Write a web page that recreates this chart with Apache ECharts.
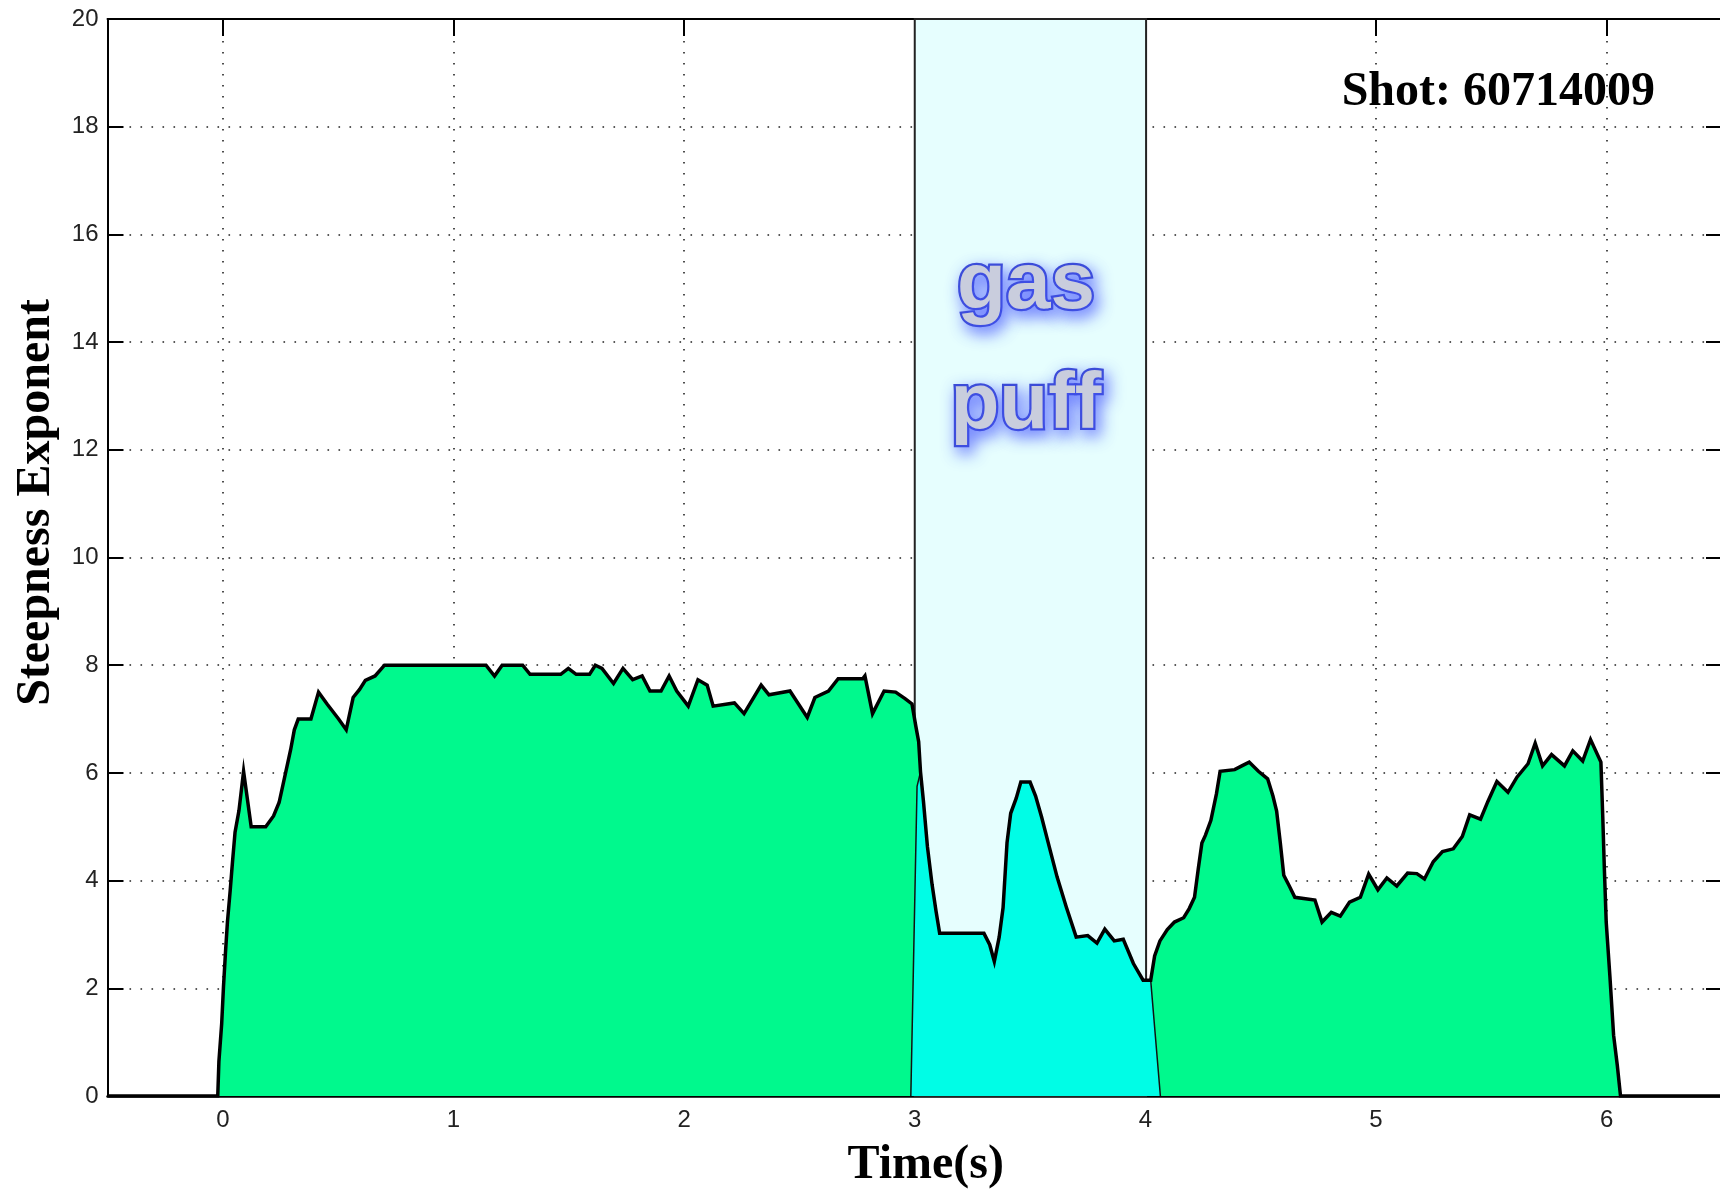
<!DOCTYPE html>
<html>
<head>
<meta charset="utf-8">
<script src="https://cdn.jsdelivr.net/npm/echarts@6/dist/echarts.min.js"></script>
<style>
html,body{margin:0;padding:0;background:#fff;}
#chart{width:1720px;height:1189px;}
</style>
</head>
<body>
<div id="chart"></div>
<script>
// ---- data ----
const timeS = [-0.5,-0.022,-0.017,-0.005,0.003,0.012,0.02,0.032,0.042,0.053,0.07,0.09,0.123,0.186,0.22,0.244,0.269,0.294,0.31,0.327,0.382,0.415,0.452,0.502,0.535,0.565,0.593,0.618,0.66,0.701,1.141,1.178,1.211,1.3,1.332,1.465,1.498,1.532,1.59,1.615,1.644,1.694,1.735,1.777,1.818,1.852,1.9,1.935,1.968,2.018,2.06,2.1,2.126,2.218,2.26,2.334,2.368,2.459,2.534,2.567,2.626,2.668,2.775,2.784,2.817,2.867,2.917,2.958,2.988,3.005,3.017,3.025,3.038,3.055,3.075,3.092,3.108,3.3,3.325,3.345,3.366,3.383,3.4,3.416,3.44,3.46,3.5,3.524,3.55,3.583,3.617,3.657,3.7,3.75,3.79,3.824,3.865,3.904,3.948,3.99,4.023,4.04,4.063,4.095,4.126,4.166,4.19,4.213,4.229,4.245,4.26,4.284,4.308,4.324,4.387,4.418,4.45,4.49,4.53,4.553,4.569,4.585,4.6,4.624,4.648,4.735,4.766,4.806,4.845,4.885,4.932,4.968,5.008,5.047,5.09,5.137,5.177,5.21,5.248,5.288,5.335,5.374,5.406,5.453,5.485,5.524,5.572,5.611,5.659,5.69,5.722,5.761,5.817,5.853,5.896,5.93,5.975,5.983,5.99,5.998,6.014,6.03,6.046,6.06,6.5];
const steepness = [0,0,0.64,1.34,2.04,2.7,3.23,3.82,4.35,4.9,5.3,6.03,5.0,5.0,5.2,5.45,5.94,6.43,6.8,7.0,7.0,7.5,7.28,7.0,6.8,7.4,7.55,7.72,7.8,8.0,8.0,7.8,8.0,8.0,7.83,7.83,7.94,7.83,7.83,8.0,7.94,7.66,7.94,7.73,7.8,7.52,7.52,7.8,7.52,7.24,7.73,7.63,7.24,7.3,7.1,7.63,7.45,7.52,7.03,7.4,7.52,7.75,7.75,7.8,7.1,7.52,7.5,7.38,7.28,6.86,6.58,6.02,5.46,4.63,3.93,3.44,3.02,3.02,2.81,2.5,2.95,3.5,4.7,5.25,5.53,5.83,5.83,5.57,5.18,4.63,4.07,3.51,2.95,2.98,2.84,3.1,2.88,2.91,2.46,2.15,2.15,2.6,2.88,3.09,3.23,3.31,3.48,3.69,4.21,4.7,4.84,5.12,5.61,6.03,6.06,6.13,6.2,6.03,5.89,5.57,5.29,4.7,4.1,3.9,3.69,3.64,3.23,3.41,3.34,3.6,3.69,4.12,3.83,4.05,3.9,4.14,4.13,4.03,4.35,4.54,4.59,4.82,5.22,5.14,5.47,5.84,5.64,5.92,6.17,6.55,6.13,6.34,6.13,6.41,6.22,6.62,6.2,5.19,4.21,3.23,2.22,1.13,0.57,0,0];
// gas-puff window (shaded band) and the cyan-filled segment edges
const puffWindow = [3.0, 4.003];
const cyanLeftEdge = [[2.983, 0], [3.01, 5.75]];
const cyanRange = [3.02, 4.03];
const cyanRightEdge = [[4.065, 0]];
const xTickLabels = [0, 1, 2, 3, 4, 5, 6];
const yTicks = {min: 0, max: 20, interval: 2};
const shotLabel = 'Shot: 60714009';
const puffLabels = ['gas', 'puff'];

// ---- build series data ----
const mainData = timeS.map((t, i) => [t, steepness[i]]);
const cyanData = cyanLeftEdge
  .concat(mainData.filter(p => p[0] >= cyanRange[0] && p[0] <= cyanRange[1]))
  .concat(cyanRightEdge);

const chart = echarts.init(document.getElementById('chart'), null, {renderer: 'canvas'});

const tickFont = {fontFamily: 'Liberation Sans', fontSize: 24, color: '#222'};
const dotted = {color: '#222', width: 1.6, type: [1.6, 9.4]};

const puffTextStyle = {
  textAlign: 'center', verticalAlign: 'middle',
  font: 'bold 80px "Liberation Sans"', fill: '#C9CDDD', stroke: '#3C4CD6', lineWidth: 4.5,
  shadowBlur: 16, shadowColor: 'rgba(70,85,255,0.7)', shadowOffsetX: 4, shadowOffsetY: 6,
  textShadowBlur: 16, textShadowColor: 'rgba(70,85,255,0.7)', textShadowOffsetX: 4, textShadowOffsetY: 6
};

const option = {
  animation: false,
  backgroundColor: '#fff',
  grid: {left: 107.5, right: -2, top: 19, bottom: 93, containLabel: false, outerBoundsMode: 'none'},
  xAxis: [
    {
      type: 'value', position: 'bottom', min: -0.5, max: 6.5, splitNumber: 7,
      name: 'Time(s)', nameLocation: 'middle', nameGap: 46,
      nameTextStyle: {fontFamily: 'Liberation Serif', fontWeight: 'bold', fontSize: 48, color: '#000', padding: [0, 0, 0, 22]},
      axisLine: {show: true, onZero: false, lineStyle: {color: '#000', width: 2.5}},
      axisTick: {show: true, inside: true, length: 16, lineStyle: {color: '#000', width: 2}},
      axisLabel: Object.assign({margin: 12, showMinLabel: false, showMaxLabel: false,
        formatter: v => (xTickLabels.indexOf(v) >= 0 ? String(v) : '')}, tickFont),
      splitLine: {show: true, lineStyle: dotted}
    },
    {
      type: 'value', position: 'top', min: -0.5, max: 6.5, splitNumber: 7,
      axisLine: {show: true, onZero: false, lineStyle: {color: '#000', width: 2}},
      axisTick: {show: true, inside: true, length: 17, lineStyle: {color: '#000', width: 2}},
      axisLabel: {show: false},
      splitLine: {show: false}
    }
  ],
  yAxis: [
    {
      type: 'value', position: 'left', min: yTicks.min, max: yTicks.max, interval: yTicks.interval,
      name: 'Steepness Exponent', nameLocation: 'middle', nameGap: 47,
      nameTextStyle: {fontFamily: 'Liberation Serif', fontWeight: 'bold', fontSize: 48, color: '#000', padding: [0, 0, 0, 110]},
      axisLine: {show: true, onZero: false, lineStyle: {color: '#000', width: 2}},
      axisTick: {show: true, inside: true, length: 16, lineStyle: {color: '#000', width: 2}},
      axisLabel: Object.assign({margin: 9}, tickFont),
      splitLine: {show: true, lineStyle: dotted}
    },
    {
      type: 'value', position: 'right', min: yTicks.min, max: yTicks.max, interval: yTicks.interval,
      axisLine: {show: true, onZero: false, lineStyle: {color: '#000', width: 2}},
      axisTick: {show: true, inside: true, length: 16, lineStyle: {color: '#000', width: 2}},
      axisLabel: {show: false},
      splitLine: {show: false}
    }
  ],
  series: [
    {
      name: 'puff window', type: 'line', data: [], z: 1, silent: true,
      markArea: {
        silent: true,
        itemStyle: {color: '#E6FEFE', borderColor: '#222', borderWidth: 2},
        data: [[{xAxis: puffWindow[0]}, {xAxis: puffWindow[1]}]]
      }
    },
    {
      name: 'fill', type: 'line', data: mainData, z: 2, symbol: 'none', silent: true,
      lineStyle: {width: 0},
      areaStyle: {color: '#00F98D', opacity: 1}
    },
    {
      name: 'puff fill', type: 'line', data: cyanData, z: 3, symbol: 'none', silent: true,
      lineStyle: {width: 1.5, color: '#111'},
      areaStyle: {color: '#00FDE6', opacity: 1}
    },
    {
      name: 'steepness', type: 'line', data: mainData, z: 4, symbol: 'none', silent: true,
      lineStyle: {width: 3.5, color: '#000', join: 'miter'}
    }
  ],
  graphic: [
    {
      type: 'text', z: 100,
      style: {x: 1655, y: 93, text: shotLabel, textAlign: 'right', verticalAlign: 'middle',
        font: 'bold 48px "Liberation Serif"', fill: '#000'}
    },
    {
      type: 'text', z: 100,
      style: Object.assign({x: 1026, y: 286, text: puffLabels[0]}, puffTextStyle)
    },
    {
      type: 'text', z: 100,
      style: Object.assign({x: 1026, y: 406, text: puffLabels[1]}, puffTextStyle)
    }
  ]
};
chart.setOption(option);
</script>
</body>
</html>
